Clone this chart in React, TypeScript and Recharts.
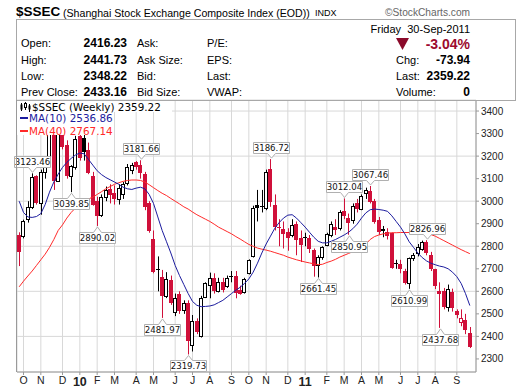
import React from 'react';
import { ComposedChart, Bar, Line, XAxis, YAxis, CartesianGrid, ReferenceDot } from 'recharts';

const RED = '#d0103a';
const INK = '#000';
const GRID = '#d8d8d8';
const FRAME = '#9a9a9a';
const SANS = '"Liberation Sans", Arial, sans-serif';
const CHART_FONT = '"DejaVu Sans", sans-serif';

// weekly bars, week of 30-Sep-2009 .. 30-Sep-2011 (105 weeks)
const opens = [
  2850, 2845, 2920, 2975, 3110, 2990, 3130, 3190, 3300, 3090, 3300, 3250, 3110, 3150, 3290, 3280, 3227, 3110, 3000, 2940,
  3020, 3055, 3035, 3010, 3030, 3080, 3140, 3176, 3160, 3120, 2990, 2830, 2699, 2662, 2580, 2650, 2510, 2590, 2515, 2550,
  2360, 2470, 2400, 2576, 2630, 2658, 2603, 2643, 2624, 2668, 2668, 2606, 2599, 2680, 2757, 2985, 2980, 2970, 3143, 2983,
  2886, 2875, 2862, 2850, 2900, 2835, 2843, 2836, 2784, 2717, 2754, 2806, 2850, 2887, 2880, 2957, 2927, 2917, 2991, 2965,
  3035, 3047, 3000, 2917, 2875, 2862, 2858, 2726, 2722, 2688, 2636, 2746, 2768, 2790, 2820, 2761, 2697, 2603, 2602, 2532,
  2598, 2514, 2465, 2473, 2416.23,
];
const highs = [
  2862, 2918, 3000, 3123.46, 3115, 3140, 3200, 3330, 3361, 3340, 3330, 3270, 3160, 3290, 3306, 3300, 3260, 3130, 3020, 3030,
  3065, 3075, 3070, 3075, 3085, 3165, 3170, 3178, 3181.66, 3130, 3000, 2870, 2755, 2695, 2685, 2670, 2590, 2600, 2560, 2560,
  2495, 2480, 2580, 2640, 2683, 2680, 2660, 2660, 2670, 2690, 2690, 2625, 2660, 2742, 2980, 3050, 3050, 3140, 3186.72, 3030,
  2920, 2910, 2880, 2920, 2910, 2870, 2860, 2850, 2790, 2760, 2800, 2860, 2910, 2920, 2960, 3012.04, 2945, 2990, 3010, 3030,
  3060, 3067.46, 3010, 2930, 2890, 2880, 2860, 2740, 2740, 2700, 2750, 2770, 2810, 2825, 2826.96, 2775, 2700, 2640, 2615, 2630,
  2612, 2520, 2520, 2500, 2441.73,
];
const lows = [
  2712, 2835, 2905, 2965, 2985, 2940, 3100, 3180, 3050, 3085, 3230, 3100, 3039.85, 3140, 3180, 3180, 3120, 2980, 2890.02, 2930,
  3000, 2990, 2985, 2985, 3010, 3070, 3120, 3140, 3100, 2960, 2860, 2680, 2600, 2481.97, 2570, 2540, 2490, 2500, 2500, 2319.73,
  2333, 2410, 2395, 2570, 2569, 2590, 2595, 2595, 2615, 2640, 2569, 2585, 2590, 2675, 2750, 2910, 2950, 2960, 2975, 2870,
  2800, 2790, 2780, 2840, 2760, 2730, 2800, 2770, 2665, 2661.45, 2740, 2800, 2840, 2850, 2870, 2920, 2850.95, 2900, 2950, 2960,
  3010, 2990, 2900, 2850, 2840, 2830, 2700, 2700, 2680, 2630, 2610.99, 2735, 2755, 2780, 2760, 2690, 2610, 2437.68, 2520, 2510,
  2510, 2480, 2445, 2410, 2348.22,
];
const closes = [
  2779, 2911, 2976, 3108, 2995, 3129, 3187, 3308, 3096, 3318, 3247, 3114, 3154, 3277, 3196, 3224, 3128, 2989, 2940, 3018,
  3051, 3031, 3013, 3060, 3075, 3150, 3160, 3155, 3130, 2979, 2870, 2688, 2697, 2583, 2656, 2553, 2569, 2515, 2550, 2382,
  2470, 2424, 2572, 2637, 2658, 2606, 2643, 2611, 2658, 2666, 2599, 2592, 2655, 2738, 2971, 2975, 2978, 3129, 3000, 2888,
  2884, 2857, 2841, 2894, 2833, 2808, 2839, 2791, 2715, 2752, 2798, 2855, 2899, 2878, 2950, 2937, 2906, 2980, 2968, 3025,
  3050, 3001, 2911, 2868, 2871, 2852, 2710, 2724, 2705, 2642, 2746, 2762, 2797, 2820, 2776, 2702, 2628, 2593, 2534, 2612,
  2529, 2498, 2482, 2433.16, 2359.22,
];
const ma10 = [
  3000, 2950, 2930, 2928, 2932, 2945, 2985, 3040, 3085, 3120, 3150, 3172, 3190, 3205, 3214, 3210, 3185, 3160, 3135, 3118,
  3105, 3095, 3085, 3075, 3062, 3055, 3052, 3058, 3062, 3055, 3030, 2990, 2930, 2870, 2820, 2770, 2715, 2670, 2630, 2590,
  2555, 2538, 2532, 2533, 2535, 2540, 2550, 2560, 2575, 2590, 2605, 2618, 2635, 2655, 2685, 2725, 2770, 2810, 2845, 2880,
  2905, 2925, 2938, 2940, 2925, 2905, 2885, 2862, 2840, 2822, 2815, 2815, 2822, 2830, 2840, 2850, 2862, 2878, 2898, 2925,
  2948, 2962, 2965, 2963, 2960, 2955, 2935, 2910, 2885, 2855, 2820, 2795, 2770, 2750, 2735, 2725, 2718, 2712, 2708, 2700,
  2685, 2665, 2635, 2590, 2536.86,
];
const ma40 = [
  2620, 2645, 2668, 2690, 2715, 2740, 2765, 2795, 2830, 2870, 2895, 2925, 2950, 2970, 2985, 3000, 3010, 3018, 3030, 3042,
  3055, 3065, 3075, 3082, 3088, 3092, 3094, 3094, 3092, 3085, 3073, 3060, 3047, 3035, 3025, 3012, 3000, 2988, 2975, 2965,
  2952, 2940, 2930, 2920, 2910, 2898, 2885, 2875, 2865, 2855, 2843, 2832, 2820, 2808, 2800, 2792, 2787, 2783, 2778, 2772,
  2766, 2760, 2752, 2746, 2740, 2735, 2730, 2726, 2722, 2718, 2720, 2728, 2734, 2742, 2752, 2760, 2768, 2776, 2785, 2795,
  2810, 2830, 2843, 2850, 2855, 2858, 2860, 2860, 2861, 2861, 2861, 2860, 2860, 2860, 2858, 2852, 2845, 2835, 2825, 2815,
  2805, 2795, 2785, 2776, 2767.14,
];

const monthTicks = [1, 5, 10, 14, 18, 22, 27, 31, 36, 40, 44, 49, 53, 57, 62, 66, 71, 75, 79, 83, 88, 92, 96, 101];
const monthLabels = ['O', 'N', 'D', '10', 'F', 'M', 'A', 'M', 'J', 'J', 'A', 'S', 'O', 'N', 'D', '11', 'F', 'M', 'A', 'M', 'J', 'J', 'A', 'S'];
const priceTicks = [2300, 2400, 2500, 2600, 2700, 2800, 2900, 3000, 3100, 3200, 3300, 3400];

const peakBars = [3, 28, 58, 75, 81, 94];
const troughBars = [12, 18, 33, 39, 69, 76, 90, 97];

const data = closes.map((c, i) => ({
  i,
  o: opens[i],
  h: highs[i],
  l: lows[i],
  c,
  prev: i > 0 ? closes[i - 1] : opens[i],
  range: [lows[i], highs[i]],
  ma10: ma10[i],
  ma40: ma40[i],
}));

const Candle = (props: any) => {
  const { x, y, width, height, payload } = props;
  if (!payload) return null;
  const { o, h, l, c, prev } = payload;
  const span = h - l || 1;
  const py = (v: number) => y + ((h - v) / span) * height;
  const cx = Math.round(x + width / 2);
  const color = c < prev ? RED : INK;
  const hollow = c >= o;
  const yTop = Math.round(py(Math.max(o, c))) + 0.5;
  const yBot = Math.round(py(Math.min(o, c))) + 0.5;
  return (
    <g>
      <line x1={cx + 0.5} x2={cx + 0.5} y1={y} y2={y + height} stroke={color} strokeWidth={1} />
      {yBot - yTop < 1 ? (
        <line x1={cx - 2} x2={cx + 2} y1={yTop} y2={yTop} stroke={color} strokeWidth={1} />
      ) : (
        <rect x={cx - 1.5} y={yTop} width={3} height={yBot - yTop} fill={hollow ? '#fff' : color} stroke={color} strokeWidth={1} />
      )}
    </g>
  );
};

const PriceTag = ({ cx, cy, text, below }: any) => {
  if (cx == null || cy == null) return null;
  const w = 36;
  const hgt = 11;
  const gap = 6;
  const c = Math.round(cx) + 0.5;
  const x0 = Math.round(cx - w / 2) + 0.5;
  const x1 = x0 + w;
  let d: string;
  let top: number;
  if (below) {
    top = Math.round(cy + gap) + 0.5;
    const tip = cy + 1;
    d = `M${x0},${top} H${c - 4} L${c},${tip} L${c + 4},${top} H${x1} V${top + hgt} H${x0} Z`;
  } else {
    top = Math.round(cy - gap - hgt) + 0.5;
    const tip = cy - 1;
    const b = top + hgt;
    d = `M${x0},${top} H${x1} V${b} H${c + 4} L${c},${tip} L${c - 4},${b} H${x0} Z`;
  }
  return (
    <g>
      <path d={d} fill="#fff" stroke="#b0b0b0" strokeWidth={1} />
      <text x={c} y={top + hgt / 2 + 3} textAnchor="middle" fontSize={8.6} fontFamily={CHART_FONT} fill="#111">
        {text}
      </text>
    </g>
  );
};

const MonthTick = (props: any) => {
  const { x, y, payload } = props;
  const k = monthTicks.indexOf(payload.value);
  const label = monthLabels[k] ?? '';
  const year = label.length > 1;
  return (
    <text
      x={x}
      y={y}
      dy="0.71em"
      textAnchor="middle"
      fontFamily={SANS}
      fontSize={year ? 12.5 : 10.5}
      fontWeight={year ? 'bold' : 'normal'}
      fill="#222"
    >
      {label}
    </text>
  );
};

const T = ({ x, y, right, size = 11, bold, color = '#000', children }: any) => (
  <div
    style={{
      position: 'absolute',
      top: y - 7,
      ...(right ? { right: 520 - x, textAlign: 'right' } : { left: x }),
      fontFamily: SANS,
      fontSize: size,
      fontWeight: bold ? 'bold' : 'normal',
      lineHeight: '14px',
      color,
      whiteSpace: 'nowrap',
    }}
  >
    {children}
  </div>
);

const legendText = (left: number, top: number, color: string): React.CSSProperties => ({
  position: 'absolute',
  left,
  top,
  fontFamily: CHART_FONT,
  fontSize: 10.4,
  lineHeight: '12px',
  color,
  whiteSpace: 'nowrap',
});

export default function App() {
  return (
    <div style={{ position: 'absolute', left: 0, top: 0, width: 520, height: 391, background: '#fff', overflow: 'hidden' }}>
      <ComposedChart width={520} height={391} data={data} margin={{ top: 100, right: 4, bottom: 0, left: 17 }}>
        <CartesianGrid stroke={GRID} />
        <XAxis
          dataKey="i"
          type="category"
          ticks={monthTicks}
          interval={0}
          height={19}
          tickSize={3}
          tickMargin={2}
          padding={{ left: 0, right: 4 }}
          axisLine={{ stroke: FRAME }}
          tickLine={{ stroke: FRAME }}
          tick={<MonthTick />}
        />
        <YAxis
          orientation="right"
          type="number"
          domain={[2242, 3449]}
          allowDataOverflow
          ticks={priceTicks}
          width={40}
          tickSize={3}
          tickMargin={2}
          axisLine={{ stroke: FRAME }}
          tickLine={{ stroke: FRAME }}
          tick={{ fontSize: 10, fill: '#222', fontFamily: SANS }}
        />
        <Bar dataKey="range" shape={<Candle />} isAnimationActive={false} />
        <Line dataKey="ma40" stroke="#ff2a2a" strokeWidth={1} dot={false} activeDot={false} isAnimationActive={false} />
        <Line dataKey="ma10" stroke="#1c1c9e" strokeWidth={1} dot={false} activeDot={false} isAnimationActive={false} />
        {peakBars.map((i) => (
          <ReferenceDot
            key={`p${i}`}
            x={i}
            y={highs[i]}
            r={0}
            ifOverflow="visible"
            shape={(p: any) => <PriceTag {...p} text={highs[i].toFixed(2)} />}
          />
        ))}
        {troughBars.map((i) => (
          <ReferenceDot
            key={`t${i}`}
            x={i}
            y={lows[i]}
            r={0}
            ifOverflow="visible"
            shape={(p: any) => <PriceTag {...p} text={lows[i].toFixed(2)} below />}
          />
        ))}
      </ComposedChart>

      {/* frames */}
      <div style={{ position: 'absolute', left: 16, top: 19, width: 500, height: 82, border: '1px solid #a8a8a8', boxSizing: 'border-box' }} />
      <div style={{ position: 'absolute', left: 16, top: 100, width: 1, height: 272, background: FRAME }} />

      {/* chart legend */}
      <div style={{ position: 'absolute', left: 17, top: 101, width: 155, height: 11, background: '#fff' }} />
      <div style={{ position: 'absolute', left: 17, top: 112, width: 86, height: 23, background: '#fff' }} />
      <svg style={{ position: 'absolute', left: 20, top: 102 }} width={11} height={10}>
        <line x1={1.5} x2={1.5} y1={1} y2={9} stroke="#000" />
        <rect x={0.5} y={2.5} width={2} height={5} fill="#000" />
        <line x1={5.5} x2={5.5} y1={0} y2={8} stroke="#000" />
        <rect x={4.5} y={1.5} width={2} height={4} fill="#fff" stroke="#000" />
        <line x1={9.5} x2={9.5} y1={2} y2={10} stroke="#000" />
        <rect x={8.5} y={3.5} width={2} height={4} fill="#000" />
      </svg>
      <div style={legendText(32, 100.5, '#000')}>$SSEC (Weekly) 2359.22</div>
      <div style={{ position: 'absolute', left: 20, top: 117, width: 8, height: 2, background: '#1c1c9e' }} />
      <div style={legendText(29, 111.5, '#1c1c9e')}>MA(10) 2536.86</div>
      <div style={{ position: 'absolute', left: 20, top: 130, width: 8, height: 2, background: '#ff2a2a' }} />
      <div style={legendText(29, 124.5, '#ff2a2a')}>MA(40) 2767.14</div>

      {/* title */}
      <T x={16} y={12} size={13.5} bold>$SSEC</T>
      <T x={63} y={12.5} size={10.6}>(Shanghai Stock Exchange Composite Index (EOD))</T>
      <T x={315} y={12.5} size={9}>INDX</T>
      <T x={385} y={12.5} size={10.2} color="#666">©StockCharts.com</T>

      {/* quote box */}
      <T x={470} y={28.5} right>Friday&nbsp;&nbsp;30-Sep-2011</T>
      <T x={21} y={43}>Open:</T>
      <T x={127} y={43} right size={12} bold>2416.23</T>
      <T x={137} y={43}>Ask:</T>
      <T x={207} y={43}>P/E:</T>
      <svg style={{ position: 'absolute', left: 396, top: 38 }} width={13} height={12}>
        <polygon points="0,0 13,0 6.5,12" fill="#8b0a2a" />
      </svg>
      <T x={470} y={43.5} right size={14} bold color="#9c0a2e">-3.04%</T>

      <T x={21} y={60}>High:</T>
      <T x={127} y={60} right size={12} bold>2441.73</T>
      <T x={137} y={60}>Ask Size:</T>
      <T x={207} y={60}>EPS:</T>
      <T x={396} y={60}>Chg:</T>
      <T x={470} y={60} right size={12} bold>-73.94</T>

      <T x={21} y={76}>Low:</T>
      <T x={127} y={76} right size={12} bold>2348.22</T>
      <T x={137} y={76}>Bid:</T>
      <T x={207} y={76}>Last:</T>
      <T x={396} y={76}>Last:</T>
      <T x={470} y={76} right size={12} bold>2359.22</T>

      <T x={21} y={92}>Prev Close:</T>
      <T x={127} y={92} right size={12} bold>2433.16</T>
      <T x={137} y={92}>Bid Size:</T>
      <T x={207} y={92}>VWAP:</T>
      <T x={396} y={92}>Volume:</T>
      <T x={470} y={92} right size={12} bold>0</T>
    </div>
  );
}
